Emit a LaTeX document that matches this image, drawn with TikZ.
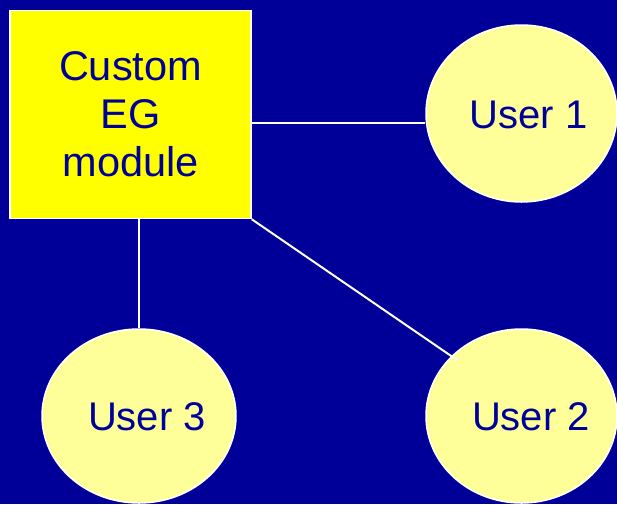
\documentclass[tikz,border=0pt]{standalone}
\usepackage{fontspec}
\setmainfont{Liberation Sans}
\usetikzlibrary{shapes.geometric,calc}
\definecolor{bgblue}{HTML}{000099}
\definecolor{boxyellow}{HTML}{FFFF00}
\definecolor{userfill}{HTML}{FFFF99}
\tikzset{
  modbox/.style={draw=white, line width=1.5pt, fill=boxyellow, rectangle,
    minimum width=241pt, minimum height=208pt, inner sep=0pt,
    text=bgblue, align=center,
    font=\fontsize{41.5}{48}\selectfont},
  userell/.style={draw=white, line width=1.5pt, fill=userfill, ellipse,
    inner sep=0pt},
  usertext/.style={text=bgblue, inner sep=0pt,
    font=\fontsize{40}{46}\selectfont},
  link/.style={draw=white, line width=2pt}
}
\begin{document}
\begin{tikzpicture}[x=1pt,y=-1pt]
\fill[bgblue] (0,0) rectangle (617,504);
\useasboundingbox (0,0) rectangle (617,504);
\node[modbox] (sq) at (130.5,114.5) {Custom\\EG\\module};
\node[userell, minimum width=191pt, minimum height=177pt] (u1) at (521.5,113.5) {};
\node[userell, minimum width=194pt, minimum height=174pt] (u3) at (139,416) {};
\node[userell, minimum width=191pt, minimum height=174pt] (u2) at (521.5,416) {};
\node[usertext] (u1t) at (528.5,115) {User 1};
\node[usertext] (u3t) at (147,417) {User 3};
\node[usertext] (u2t) at (531,417) {User 2};
\coordinate (u2in) at ($(u2.center)+(-64.5,-56)$);
\draw[link] ([yshift=-8pt]sq.east) -- ([yshift=-8pt]sq.east -| u1.west);
\draw[link] (u3.north |- sq.south) -- (u3.north);
\draw[link] (sq.south east) -- (u2in);
\end{tikzpicture}
\end{document}
